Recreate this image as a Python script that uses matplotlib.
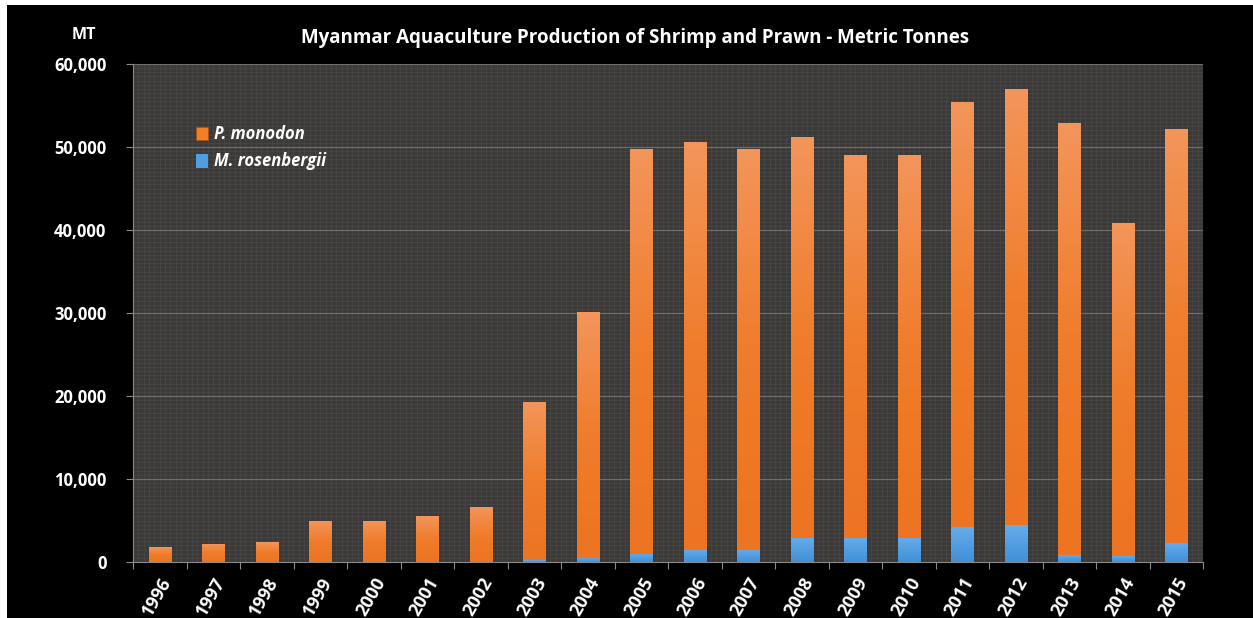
import numpy as np
import matplotlib
matplotlib.use("Agg")
import matplotlib.pyplot as plt
from matplotlib.patches import Rectangle
from matplotlib.colors import LinearSegmentedColormap

plt.rcParams['font.family'] = ['Open Sans', 'DejaVu Sans']

years = ["1996", "1997", "1998", "1999", "2000", "2001", "2002", "2003", "2004", "2005",
         "2006", "2007", "2008", "2009", "2010", "2011", "2012", "2013", "2014", "2015"]
# totals (top of each stacked bar)
totals = [1800, 2200, 2400, 5000, 5000, 5500, 6600, 19300, 30100, 49700,
          50600, 49800, 51200, 49000, 49000, 55400, 57000, 52900, 40800, 52200]
rosenbergii = [0, 0, 0, 0, 0, 0, 0, 200, 500, 1000,
               1450, 1450, 2900, 2900, 2900, 4200, 4450, 850, 750, 2300]
monodon = [t - r for t, r in zip(totals, rosenbergii)]
yticks = [0, 10000, 20000, 30000, 40000, 50000, 60000]

ORANGE = "#F07E27"
BLUE = "#4F9EE0"
W, H = 1253, 618

fig = plt.figure(figsize=(W / 100, H / 100), dpi=100, facecolor="white")
# black card with a thin white margin on top and left
fig.add_artist(Rectangle((7 / W, 0), 1 - 7 / W, 1 - 5 / H, transform=fig.transFigure,
                         facecolor="black", edgecolor="none", zorder=0))

ax = fig.add_axes([133 / W, (H - 562) / H, 1070 / W, 498 / H])
ax.set_facecolor("#3b3a39")

x = np.arange(len(years))

# fine texture of the plot area
ax.vlines(np.arange(-0.5, len(years) - 0.5, 0.1), 0, 60000, color="#474645", lw=0.6, zorder=0)
ax.hlines(np.arange(0, 60000, 500), -0.5, len(years) - 0.5, color="#474645", lw=0.6, zorder=0)
ax.hlines(yticks[1:], -0.5, len(years) - 0.5, color="#6e6d6b", lw=0.9, zorder=0.5)

b_blue = ax.bar(x, rosenbergii, width=0.42, color=BLUE, zorder=2, label="M. rosenbergii")
b_orange = ax.bar(x, monodon, width=0.42, bottom=rosenbergii, color=ORANGE, edgecolor="#a9531b",
                  linewidth=0.6, zorder=2, label="P. monodon")

# soft vertical gradient on every bar segment
grad = np.linspace(0, 1, 64).reshape(-1, 1)
cmaps = {
    id(b_orange): LinearSegmentedColormap.from_list("o", ["#EC7422", "#EF7D2B", "#F3955A"]),
    id(b_blue): LinearSegmentedColormap.from_list("b", ["#4190D7", "#66ACEA"]),
}
for cont in (b_blue, b_orange):
    for p in cont.patches:
        if p.get_height() <= 0:
            continue
        x0, y0 = p.get_x(), p.get_y()
        im = ax.imshow(grad, cmap=cmaps[id(cont)], origin="lower", aspect="auto",
                       extent=(x0, x0 + p.get_width(), y0, y0 + p.get_height()), zorder=2.1)
        im.set_clip_path(p)
ax.set_xlim(-0.5, len(years) - 0.5)
ax.set_ylim(0, 60000)

ax.set_yticks(yticks)
ax.set_yticklabels([f"{v:,}" for v in yticks])
ax.set_xticks(x)
ax.set_xticklabels(years, rotation=60, ha="right", va="top", rotation_mode="anchor")
ax.set_xticks(np.arange(-0.5, len(years), 1), minor=True)
ax.tick_params(axis="x", which="major", length=0, pad=9, labelcolor="white", labelsize=13)
ax.tick_params(axis="x", which="minor", length=5, color="#8a8a8a", width=0.8)
ax.tick_params(axis="y", length=5, color="#8a8a8a", width=0.8, pad=14, labelcolor="white", labelsize=12)
for lab in ax.get_xticklabels() + ax.get_yticklabels():
    lab.set_fontweight("bold")

for side in ["top", "right"]:
    ax.spines[side].set_visible(False)
ax.spines["left"].set_color("#8a8a8a")
ax.spines["bottom"].set_color("#8a8a8a")

handles, labels = ax.get_legend_handles_labels()
leg = ax.legend(handles[::-1], labels[::-1], loc="upper left", bbox_to_anchor=(0.045, 0.907),
                frameon=False, handlelength=0.7, handleheight=0.9, handletextpad=0.4,
                labelspacing=0.55, prop={"weight": "bold", "style": "italic", "size": 12})
for t in leg.get_texts():
    t.set_color("white")

fig.text(635 / W, 1 - 38 / H, "Myanmar Aquaculture Production of Shrimp and Prawn - Metric Tonnes",
         ha="center", va="center", color="white", fontsize=13.5, fontweight="bold")
fig.text(84 / W, 1 - 35 / H, "MT", ha="center", va="center", color="white",
         fontsize=11.5, fontweight="bold")

fig.savefig("out.png", dpi=100, facecolor=fig.get_facecolor())
